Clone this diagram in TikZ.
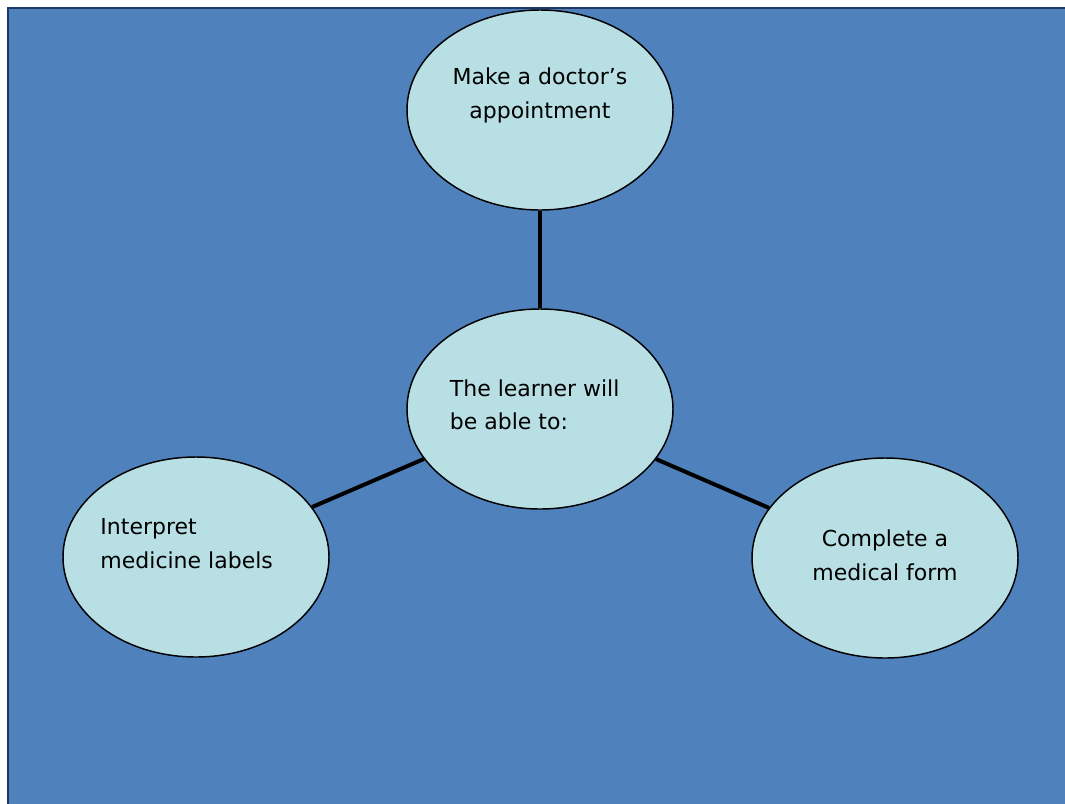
\documentclass[tikz,border=0pt]{standalone}
\usepackage{fontspec}
\setmainfont{DejaVu Sans}
\usetikzlibrary{shapes.geometric,positioning}

\definecolor{bgblue}{HTML}{4F81BD}
\definecolor{bgedge}{HTML}{1F3864}
\definecolor{bubblefill}{HTML}{B8DFE3}

\begin{document}
\begin{tikzpicture}[x=0.75pt,y=-0.75pt,on grid,
  bubble/.style={ellipse,draw=black,line width=1.1pt,fill=bubblefill,minimum width=199.5pt,minimum height=150pt},
  bubbletext/.style={font=\fontsize{16.5}{25}\selectfont,align=left,inner sep=0pt},
  link/.style={line width=3pt,black}]

\useasboundingbox (0,0) rectangle (1065,804);
\draw[fill=bgblue,draw=bgedge,line width=1.8pt] (8,8) rectangle (1075,814);

\node[bubble] (goal) at (540,409) {};
\node[bubble] (doctor) [above=224.25pt of goal] {};
\node[bubble] (labels) [below left=111pt and 258pt of goal] {};
\node[bubble] (form) [below right=111.75pt and 258.75pt of goal] {};

\node[bubbletext,align=center] (doctor-t) at ([yshift=11pt]doctor.center) {Make a doctor’s\\appointment};
\node[bubbletext] (goal-t) at ([xshift=-4pt,yshift=3pt]goal.center) {The learner will\\be able to:};
\node[bubbletext] (labels-t) at ([xshift=-7pt,yshift=10pt]labels.center) {Interpret\\medicine labels};
\node[bubbletext,align=center] (form-t) at ([yshift=2pt]form.center) {Complete a\\medical form};

\draw[link] (goal) -- (doctor);
\draw[link] (goal) -- (labels);
\draw[link] (goal) -- (form);

\end{tikzpicture}
\end{document}
